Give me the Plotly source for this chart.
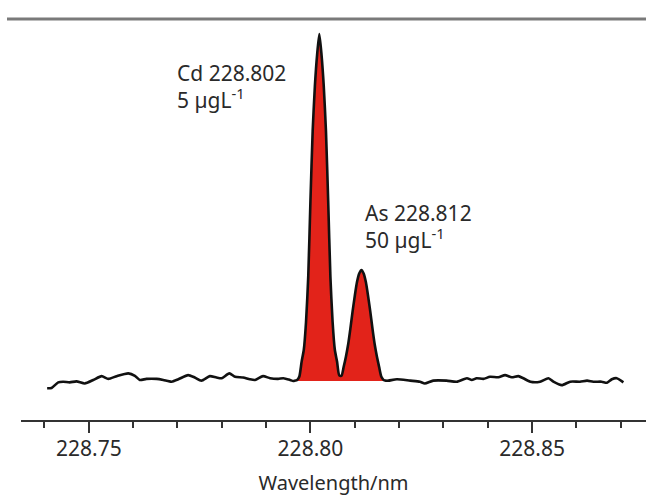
import plotly.graph_objects as go

# ---- data ----
noise_left_wl = [228.7406, 228.7416, 228.7431, 228.7442, 228.7457, 228.7472, 228.7491, 228.7510,
                 228.7529, 228.7544, 228.7563, 228.7589, 228.7604, 228.7615, 228.7630, 228.7653,
                 228.7668, 228.7687, 228.7702, 228.7724, 228.7739, 228.7754, 228.7773, 228.7788,
                 228.7800, 228.7817, 228.7830, 228.7848, 228.7863, 228.7875, 228.7893, 228.7909,
                 228.7927, 228.7939, 228.7954]
noise_left_int = [-2.1, -2.0, -0.4, -0.2, -0.4, -0.1, -0.7, 0.3,
                  1.4, 0.6, 1.4, 2.2, 1.5, 0.3, 0.6, 0.6,
                  0.3, -0.2, 0.5, 1.7, 1.0, 0.1, 1.4, 1.0,
                  0.8, 2.2, 1.2, 1.0, 0.5, 0.3, 1.4, 0.8,
                  0.6, 0.8, 0.3]

peak_wl = [228.7961, 228.7965, 228.7970, 228.7975, 228.7980, 228.7985, 228.7990, 228.7995,
           228.8000, 228.8005, 228.8010, 228.8015, 228.8020, 228.8025, 228.8030, 228.8035,
           228.8040, 228.8045, 228.8050, 228.8055, 228.8060, 228.8065, 228.8070, 228.8075,
           228.8080, 228.8085, 228.8090, 228.8095, 228.8100, 228.8105, 228.8110, 228.8115,
           228.8120, 228.8125, 228.8130, 228.8135, 228.8140, 228.8145, 228.8150, 228.8155,
           228.8160, 228.8165, 228.8170]
peak_int = [0.0, 0.1, 0.3, 1.3, 5.5, 9.0, 17.0, 30.0,
            52.0, 72.0, 85.0, 94.0, 100.0, 94.0, 85.0, 72.0,
            52.0, 30.0, 17.0, 9.0, 5.6, 1.6, 1.5, 4.1,
            7.0, 10.5, 15.0, 20.0, 24.5, 28.5, 31.0, 32.0,
            31.0, 28.5, 24.5, 20.0, 15.0, 10.5, 7.0, 4.0,
            1.2, 0.3, 0.1]

noise_right_wl = [228.8176, 228.8195, 228.8225, 228.8247, 228.8258, 228.8277, 228.8307, 228.8330,
                  228.8353, 228.8364, 228.8375, 228.8390, 228.8405, 228.8424, 228.8439, 228.8454,
                  228.8469, 228.8480, 228.8496, 228.8518, 228.8537, 228.8548, 228.8567, 228.8586,
                  228.8608, 228.8624, 228.8638, 228.8657, 228.8669, 228.8680, 228.8691, 228.8706]
noise_right_int = [0.1, 0.5, 0.1, -0.2, -0.7, 0.1, 0.1, -0.2,
                   0.8, 0.3, 0.8, 0.6, 1.2, 1.1, 1.7, 1.1,
                   1.4, 0.8, -0.2, -0.2, 0.8, -0.2, -1.2, -0.2,
                   -0.2, 0.1, -0.2, -0.2, -0.5, 0.5, 0.8, -0.4]

tick_vals = [228.75, 228.80, 228.85]
tick_text = ["228.75", "228.80", "228.85"]

label_cd = "Cd 228.802<br>5 µgL<sup>-1</sup>"
label_as = "As 228.812<br>50 µgL<sup>-1</sup>"
x_title = "Wavelength/nm"

FONT = "Noto Sans"
TXT = "#2a2a2a"

all_wl = noise_left_wl + peak_wl + noise_right_wl
all_int = noise_left_int + peak_int + noise_right_int

fig = go.Figure()
fig.add_trace(go.Scatter(
    x=peak_wl, y=peak_int, mode="lines", fill="tozeroy",
    fillcolor="#e2231a", line=dict(width=0, color="#e2231a", shape="spline", smoothing=0.6),
    hoverinfo="skip", showlegend=False))
fig.add_trace(go.Scatter(
    x=all_wl, y=all_int, mode="lines",
    line=dict(color="#111111", width=2.6, shape="spline", smoothing=0.6),
    hoverinfo="skip", showlegend=False))

fig.add_annotation(x=228.7694, y=93.5, xref="x", yref="y", text=label_cd,
                   xanchor="left", yanchor="top", align="left", showarrow=False,
                   font=dict(family=FONT, size=21, color=TXT))
fig.add_annotation(x=228.8119, y=53.0, xref="x", yref="y", text=label_as,
                   xanchor="left", yanchor="top", align="left", showarrow=False,
                   font=dict(family=FONT, size=21, color=TXT))

fig.add_shape(type="line", xref="paper", yref="paper", x0=-0.0224, x1=1.0, y0=1.0, y1=1.0,
              line=dict(color="#7a7a7a", width=3))

fig.update_layout(
    width=646, height=496,
    margin=dict(l=21, r=0, t=19, b=76, autoexpand=False),
    paper_bgcolor="white", plot_bgcolor="white",
    font=dict(family=FONT, color=TXT),
    xaxis=dict(range=[228.7347, 228.8757], showgrid=False, zeroline=False,
               showline=True, linecolor="#333333", linewidth=2,
               tickmode="array", tickvals=tick_vals, ticktext=tick_text,
               ticks="outside", ticklen=11, tickwidth=2, tickcolor="#333333",
               ticklabelstandoff=-2,
               tickfont=dict(family=FONT, size=21, color=TXT),
               minor=dict(dtick=0.01, tick0=228.75, ticks="outside", ticklen=6,
                          tickwidth=2, tickcolor="#333333", showgrid=False),
               title=dict(text=x_title, font=dict(family=FONT, size=20, color=TXT), standoff=20)),
    yaxis=dict(range=[-11.24, 104.32], visible=False, showgrid=False, zeroline=False),
)

fig.write_html("out.html", config={"displayModeBar": False},
               post_script="document.body.style.margin='0';document.body.style.overflow='hidden';")
